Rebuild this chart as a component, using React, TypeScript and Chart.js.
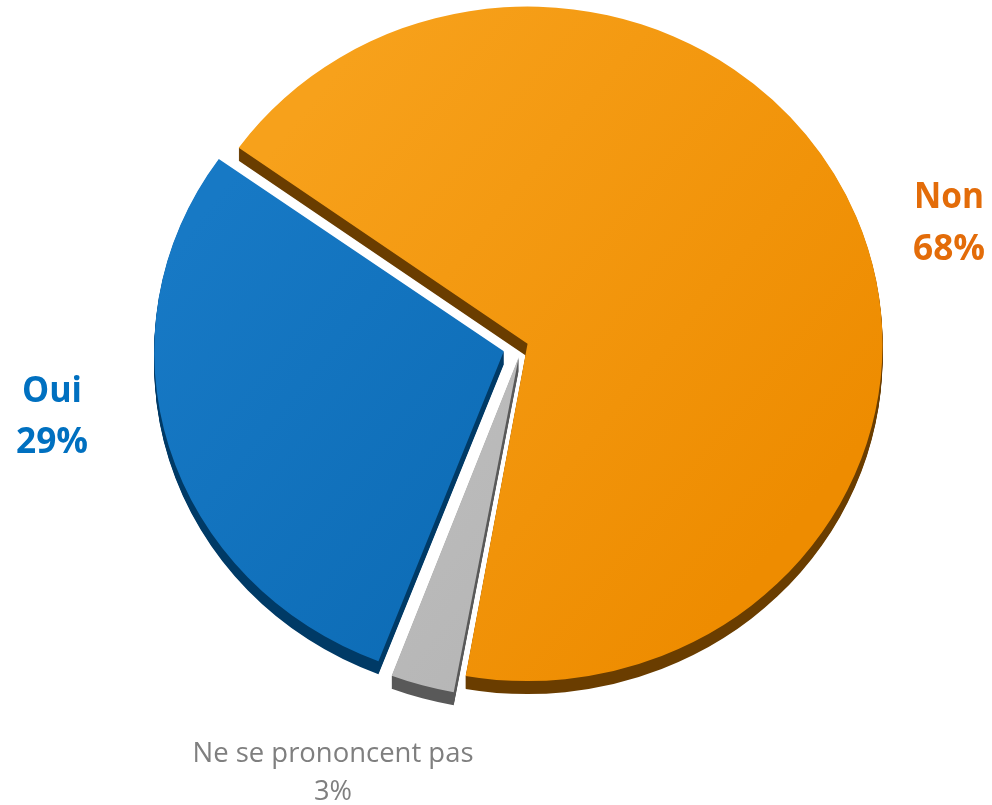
import React, { useEffect, useRef } from "react";
import { Chart, registerables } from "chart.js";

Chart.register(...registerables);

// ---- data ----
const categories = ["Oui", "Non", "Ne se prononcent pas"];
const values = [29, 68, 3];

// ---- styles ----
const faceLight = ["#1779C5", "#F7A11B", "#C4C4C4"];
const faceDark = ["#0967B0", "#EE8C00", "#B2B2B2"];
const sideColors = ["#003A66", "#6A3D00", "#595959"];
const labelColors = ["#0070C0", "#E36C09", "#7F7F7F"];
const sliceOffsets = [76, 24, 48];

const SQUASH = 0.95;
const DEPTH_X = 0;
const DEPTH_Y = 13;
const DEPTH_STEPS = 13;

const labelLayout = [
  { x: 52, ys: [402, 453], bold: true, size: 36, maxW: [60, 72] },
  { x: 949, ys: [208, 260], bold: true, size: 36, maxW: [70, 72] },
  { x: 333, ys: [762, 800], bold: false, size: 28, maxW: [281, 38] },
];

const pie3d = {
  id: "pie3d",
  beforeDatasetsDraw(chart: any) {
    const ctx = chart.ctx;
    const meta = chart.getDatasetMeta(0);
    const cy = meta.data.length ? meta.data[0].y : 0;
    ctx.save();
    ctx.translate(0, cy);
    ctx.scale(1, SQUASH);
    ctx.translate(0, -cy);
    meta.data.forEach((el: any, i: number) => {
      const fake = Object.create(el);
      fake.options = Object.assign({}, el.options, {
        backgroundColor: sideColors[i],
        borderWidth: 0,
      });
      for (let k = 1; k <= DEPTH_STEPS; k++) {
        ctx.save();
        ctx.translate((DEPTH_X * k) / DEPTH_STEPS, (DEPTH_Y / SQUASH) * (k / DEPTH_STEPS));
        fake.draw(ctx);
        ctx.restore();
      }
    });
  },
  afterDatasetsDraw(chart: any) {
    chart.ctx.restore();
  },
  afterDraw(chart: any) {
    const ctx = chart.ctx;
    ctx.save();
    ctx.textAlign = "center";
    ctx.textBaseline = "alphabetic";
    labelLayout.forEach((L, i) => {
      ctx.fillStyle = labelColors[i];
      ctx.font = `${L.bold ? "bold " : ""}${L.size}px "Open Sans", sans-serif`;
      const lines = [categories[i], `${values[i]}%`];
      lines.forEach((t, j) => {
        ctx.fillText(t, L.x, L.ys[j], L.maxW[j]);
      });
    });
    ctx.restore();
  },
};

export default function App() {
  const ref = useRef<HTMLCanvasElement | null>(null);

  useEffect(() => {
    if (!ref.current) return;
    const chart = new Chart(ref.current, {
      type: "pie",
      data: {
        labels: categories,
        datasets: [
          {
            data: values,
            backgroundColor: (c: any) => {
              const i = typeof c.dataIndex === "number" ? c.dataIndex : 0;
              const a = c.chart.chartArea;
              if (!a) return faceDark[i];
              const cx = (a.left + a.right) / 2;
              const cy = (a.top + a.bottom) / 2;
              const g = c.chart.ctx.createLinearGradient(cx - 260, cy - 200, cx + 260, cy + 200);
              g.addColorStop(0, faceLight[i]);
              g.addColorStop(1, faceDark[i]);
              return g;
            },
            borderWidth: 0,
            offset: sliceOffsets,
            clip: false,
          } as any,
        ],
      },
      options: {
        responsive: false,
        devicePixelRatio: 1,
        animation: false,
        rotation: 201,
        radius: 349,
        layout: { padding: { left: 52, right: 0, top: 0, bottom: 113 } },
        plugins: {
          legend: { display: false },
          tooltip: { enabled: false },
        },
      } as any,
      plugins: [pie3d],
    });
    return () => chart.destroy();
  }, []);

  return (
    <div
      style={{
        position: "fixed",
        left: 0,
        top: 0,
        width: 992,
        height: 805,
        background: "#ffffff",
      }}
    >
      <canvas ref={ref} width={992} height={805} style={{ width: 992, height: 805 }} />
    </div>
  );
}
